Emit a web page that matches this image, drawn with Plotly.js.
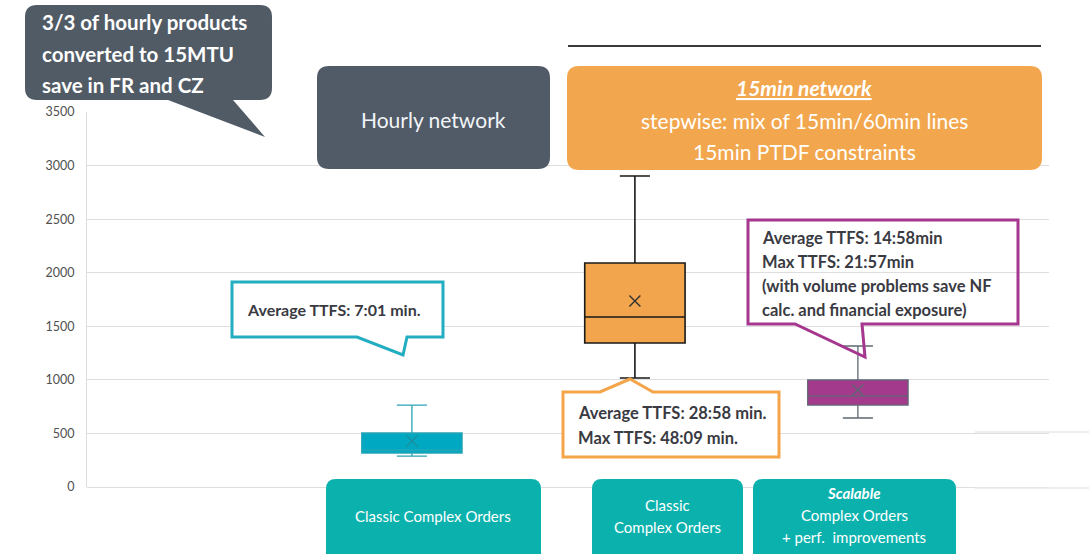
<!DOCTYPE html>
<html>
<head>
<meta charset="utf-8">
<script src="https://cdn.plot.ly/plotly-3.0.1.min.js"></script>
<style>
  html, body { margin: 0; padding: 0; background: #fff; }
  #chart { width: 1092px; height: 554px; }
</style>
</head>
<body>
<div id="chart"></div>
<script>
'use strict'

// box statistics (time to first solution)
var categories = ['Hourly - Classic Complex Orders', '15min - Classic Complex Orders', '15min - Scalable Complex Orders'];
var lowerWhisker = [289, 1017, 644];
var q1 = [317, 1344, 765];
var median = [345, 1587, 849];
var q3 = [504, 2091, 999];
var upperWhisker = [765, 2903, 1316];
var mean = [429, 1736, 905];

var yTicks = [0, 500, 1000, 1500, 2000, 2500, 3000, 3500];

var boxFill = ['#00a9c1', '#f2a54c', '#a43a8c'];
var boxLine = ['#2ba3b5', '#1a1a1a', '#5e6873'];
var meanColor = ['#1b8fa0', '#333333', '#5e6873'];

// texts
var topLeftNote = ['3/3 of hourly products', 'converted to 15MTU', 'save in FR and CZ'];
var hourlyHeader = 'Hourly network';
var quarterHeader = ['<span style="text-decoration:underline"><b><i>15min network</i></b></span>', 'stepwise: mix of 15min/60min lines', '15min PTDF constraints'];
var tealNote = ['Average TTFS: 7:01 min.'];
var orangeNote = ['Average TTFS: 28:58 min.', 'Max TTFS: 48:09 min.'];
var purpleNote = ['Average TTFS: 14:58min', 'Max TTFS: 21:57min', '(with volume problems save NF', 'calc. and financial exposure)'];
var labelA = ['Classic Complex Orders'];
var labelB = ['Classic', 'Complex Orders'];
var labelC = ['<b><i>Scalable</i></b>', 'Complex Orders', '+ perf.  improvements'];

// plot area in pixels
var L = 87, R = 1049, T = 112, B = 487;
function px(x){ return (x - L) / (R - L); }
function py(y){ return (B - y) / (B - T); }
function pt(x, y){ return px(x).toFixed(5) + ',' + py(y).toFixed(5); }

function roundRect(x0, y0, x1, y1, r){
    return 'M' + pt(x0 + r, y0) + ' L' + pt(x1 - r, y0) + ' Q' + pt(x1, y0) + ' ' + pt(x1, y0 + r) +
        ' L' + pt(x1, y1 - r) + ' Q' + pt(x1, y1) + ' ' + pt(x1 - r, y1) +
        ' L' + pt(x0 + r, y1) + ' Q' + pt(x0, y1) + ' ' + pt(x0, y1 - r) +
        ' L' + pt(x0, y0 + r) + ' Q' + pt(x0, y0) + ' ' + pt(x0 + r, y0) + ' Z';
}
function poly(points){
    return 'M' + points.map(function(p){ return pt(p[0], p[1]); }).join(' L') + ' Z';
}
function shapePath(path, fill, line, width){
    return { type: 'path', xref: 'paper', yref: 'paper', path: path, fillcolor: fill,
        line: { color: line, width: width || 0 }, layer: 'above' };
}

var FONT = 'Lato, "Open Sans", sans-serif';
var annotations = [];
function addLines(lines, x, ys, opts){
    lines.forEach(function(t, i){
        annotations.push({
            xref: 'paper', yref: 'paper', x: px(x), y: py(ys[i]),
            xanchor: opts.anchor || 'center', yanchor: 'middle', showarrow: false,
            text: opts.bold ? '<b>' + t + '</b>' : t,
            font: { family: FONT, size: opts.size, color: opts.color }
        });
    });
}

var shapes = [];
// top-left speech bubble
shapes.push(shapePath(
    'M' + pt(37, 5) + ' L' + pt(260, 5) + ' Q' + pt(272, 5) + ' ' + pt(272, 17) +
    ' L' + pt(272, 88) + ' Q' + pt(272, 100) + ' ' + pt(260, 100) +
    ' L' + pt(233, 100) + ' L' + pt(265, 137) + ' L' + pt(168, 100) +
    ' L' + pt(37, 100) + ' Q' + pt(25, 100) + ' ' + pt(25, 88) +
    ' L' + pt(25, 17) + ' Q' + pt(25, 5) + ' ' + pt(37, 5) + ' Z',
    '#515b66', '#515b66', 0));
// headers
shapes.push(shapePath(roundRect(317, 66, 550, 169, 12), '#505b67', '#505b67', 0));
shapes.push(shapePath(roundRect(567, 66, 1042, 170, 12), '#f2a74e', '#f2a74e', 0));
shapes.push({ type: 'line', xref: 'paper', yref: 'paper', x0: px(568), x1: px(1041), y0: py(46), y1: py(46),
    line: { color: '#3a3a3a', width: 2 } });
// callouts
shapes.push(shapePath(poly([[232, 282], [443, 282], [443, 337], [407, 337], [403, 355], [357, 337], [232, 337]]),
    '#ffffff', '#22adc0', 3));
shapes.push(shapePath(poly([[563, 392], [600, 392], [630, 379], [653, 392], [779, 392], [779, 457], [563, 457]]),
    '#ffffff', '#f4a54a', 3));
shapes.push(shapePath(poly([[748, 220], [1018, 220], [1018, 324], [862, 324], [865, 357], [795, 324], [748, 324]]),
    'rgba(0,0,0,0)', '#a5378f', 3));
// bottom category labels
shapes.push(shapePath(roundRect(326, 479, 541, 580, 10), '#0bb2ad', '#0bb2ad', 0));
shapes.push(shapePath(roundRect(592, 479, 743, 580, 10), '#0bb2ad', '#0bb2ad', 0));
shapes.push(shapePath(roundRect(753, 479, 956, 580, 10), '#0bb2ad', '#0bb2ad', 0));
// faint lines at right
shapes.push({ type: 'line', xref: 'paper', yref: 'paper', x0: px(975), x1: px(1089), y0: py(432), y1: py(432),
    line: { color: '#e8e8e8', width: 1.5 } });
shapes.push({ type: 'line', xref: 'paper', yref: 'paper', x0: px(975), x1: px(1089), y0: py(488), y1: py(488),
    line: { color: '#e8e8e8', width: 1.5 } });

addLines(topLeftNote, 40, [22, 54, 85], { anchor: 'left', size: 20.5, color: '#ffffff', bold: true });
addLines([hourlyHeader], 433, [119], { size: 21, color: '#f2f4f8' });
addLines(quarterHeader, 804, [88, 120, 151], { size: 21, color: '#ffffff' });
addLines(tealNote, 245, [309], { anchor: 'left', size: 16, color: '#3a3a42', bold: true });
addLines(orangeNote, 576, [413, 438], { anchor: 'left', size: 16.5, color: '#3a3a42', bold: true });
addLines(purpleNote, 760, [238, 262, 286, 310], { anchor: 'left', size: 16.5, color: '#3a3a42', bold: true });
addLines(labelA, 433, [516], { size: 15, color: '#ffffff' });
addLines(labelB, 667, [505, 527], { size: 15, color: '#ffffff' });
addLines(labelC, 854, [493, 515, 537], { size: 15, color: '#ffffff' });

var data = [];
for (var i = 0; i < categories.length; i++) {
    data.push({
        type: 'box',
        x: [categories[i]],
        q1: [q1[i]],
        median: [median[i]],
        q3: [q3[i]],
        lowerfence: [lowerWhisker[i]],
        upperfence: [upperWhisker[i]],
        boxpoints: false,
        width: 0.45,
        whiskerwidth: 0.3,
        fillcolor: boxFill[i],
        line: { color: boxLine[i], width: i === 1 ? 1.6 : 1.3 },
        hoverinfo: 'skip',
        showlegend: false
    });
}
// mean markers
data.push({
    type: 'scatter',
    mode: 'markers',
    x: categories,
    y: mean,
    marker: { symbol: 'x-thin-open', size: 11, color: meanColor, line: { color: meanColor, width: 1.4 } },
    hoverinfo: 'skip',
    showlegend: false
});

var layout = {
    width: 1092,
    height: 554,
    margin: { l: L, r: 1092 - R, t: T, b: 554 - B, pad: 0 },
    paper_bgcolor: '#ffffff',
    plot_bgcolor: '#ffffff',
    boxmode: 'overlay',
    showlegend: false,
    font: { family: FONT },
    xaxis: {
        type: 'category',
        categoryorder: 'array',
        categoryarray: categories,
        range: [-1.457, 2.857],
        showgrid: false,
        zeroline: false,
        showticklabels: false,
        showline: false,
        fixedrange: true
    },
    yaxis: {
        range: [0, 3500],
        tickvals: yTicks,
        ticktext: yTicks.map(String),
        showgrid: true,
        gridcolor: '#dedede',
        gridwidth: 1,
        zeroline: true,
        zerolinecolor: '#dedede',
        showline: true,
        linecolor: '#dedede',
        ticks: '',
        ticklabelstandoff: 9,
        tickfont: { family: FONT, size: 12.5, color: '#505050' },
        fixedrange: true
    },
    shapes: shapes,
    annotations: annotations
};

Plotly.newPlot('chart', data, layout, { displayModeBar: false, staticPlot: true });
</script>
</body>
</html>
